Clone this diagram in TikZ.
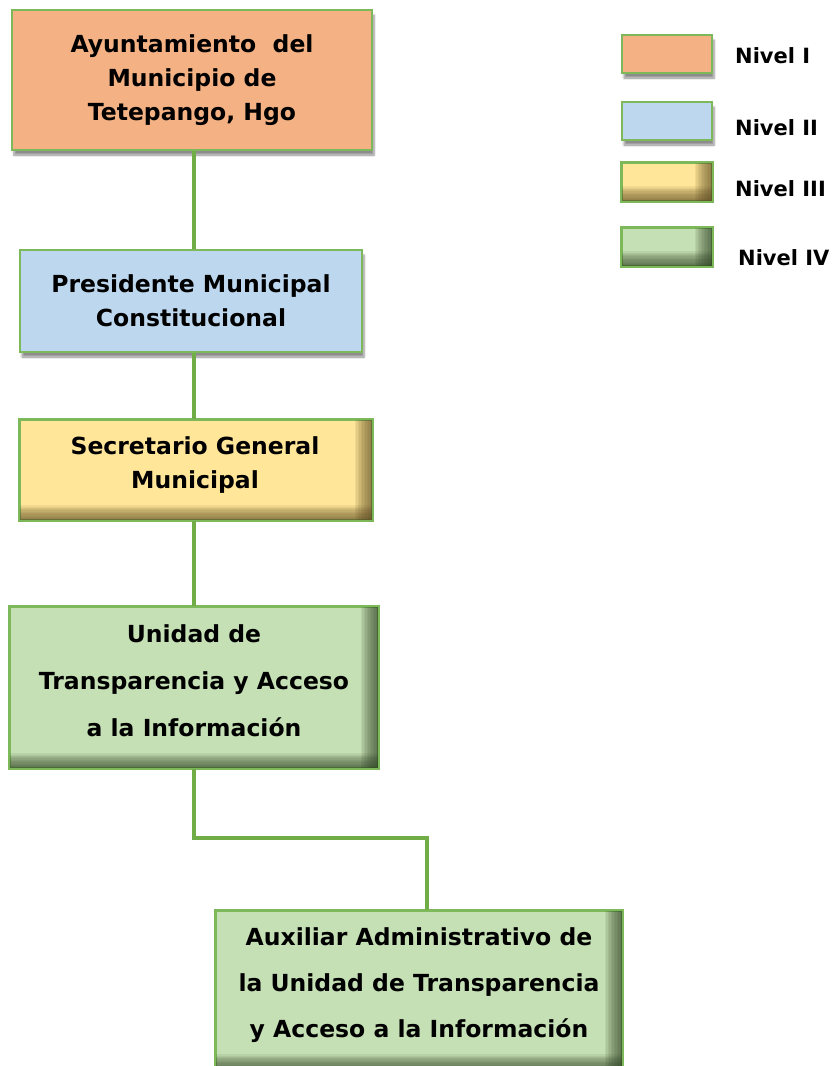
\documentclass[tikz,border=0pt]{standalone}
\usepackage{fontspec}
\setmainfont{DejaVu Sans}
\usetikzlibrary{shadows.blur}
\definecolor{lineg}{HTML}{70AD47}
\definecolor{bordg}{HTML}{7DB85A}
\definecolor{orf}{HTML}{F4B183}
\definecolor{blf}{HTML}{BDD7EE}
\definecolor{yef}{HTML}{FFE699}
\definecolor{yed}{HTML}{5E4E25}
\definecolor{grf}{HTML}{C5E0B4}
\definecolor{grd}{HTML}{2F4525}
\tikzset{
  box/.style={draw=bordg, line width=1.6pt, rectangle, inner sep=0pt, align=center, text=black},
  shbox/.style={box, blur shadow={shadow xshift=2pt, shadow yshift=-5pt, shadow blur steps=6, shadow opacity=45}},
  conn/.style={lineg, line width=4.5pt},
  bigtxt/.style={font=\bfseries\fontsize{23.5}{34}\selectfont, align=center},
  legtxt/.style={anchor=west, font=\bfseries\fontsize{21}{22}\selectfont, inner sep=0pt},
}
\newcommand\edgeshade[2]{%
  \foreach \k in {1,...,12}{
    \fill[#2, opacity=0.085] ([xshift=-\k*1.5pt]#1.north east) rectangle (#1.south east);
    \fill[#2, opacity=0.085] ([yshift=\k*1.3pt]#1.south west) rectangle (#1.south east);
  }
  \draw[draw=bordg, line width=1.6pt] (#1.north west) rectangle (#1.south east);}
\begin{document}
\begin{tikzpicture}[x=1pt,y=-1pt]
\useasboundingbox (0,0) rectangle (835,1066);
\coordinate (c1) at (194,838);
\coordinate (c2) at (427,838);
\node[shbox, bigtxt, fill=orf, minimum width=360pt, minimum height=140pt] (n1) at (192,80) {Ayuntamiento\ \ del\\Municipio de\\Tetepango, Hgo};
\node[shbox, bigtxt, fill=blf, minimum width=342pt, minimum height=102pt] (n2) at (191,301) {Presidente Municipal\\Constitucional};
\node[box, fill=yef, minimum width=352pt, minimum height=100pt] (n3) at (196,470) {};
\edgeshade{n3}{yed}
\node[bigtxt] (t3) at (195,465) {Secretario General\\Municipal};
\node[box, fill=grf, minimum width=368pt, minimum height=161pt] (n4) at (194,687.5) {};
\edgeshade{n4}{grd}
\node[bigtxt, font=\bfseries\fontsize{23.5}{47}\selectfont] (t4) at (194,681) {Unidad de\\Transparencia y Acceso\\a la Información};
\node[box, fill=grf, minimum width=406pt, minimum height=158pt] (n5) at (419,990) {};
\edgeshade{n5}{grd}
\node[bigtxt, font=\bfseries\fontsize{23.5}{46}\selectfont] (t5) at (419,985) {Auxiliar Administrativo de\\la Unidad de Transparencia\\y Acceso a la Información};
\draw[conn] (n1.south -| 194,0) -- (n2.north -| 194,0);
\draw[conn] (n2.south -| 194,0) -- (n3.north -| 194,0);
\draw[conn] (n3.south -| 194,0) -- (n4.north -| 194,0);
\draw[conn] (n4.south -| 194,0) -- (c1) -- (c2) -- (n5.north -| c2);
% legend
\node[shbox, fill=orf, minimum width=90pt, minimum height=38pt] (l1) at (667,54) {};
\node[shbox, fill=blf, minimum width=90pt, minimum height=38pt] (l2) at (667,121) {};
\node[box, fill=yef, minimum width=90pt, minimum height=38pt] (l3) at (667,182) {};
\edgeshade{l3}{yed}
\node[box, fill=grf, minimum width=90pt, minimum height=38pt] (l4) at (667,247) {};
\edgeshade{l4}{grd}
\node[legtxt] (lt1) at (735,56) {Nivel I};
\node[legtxt] (lt2) at (735,128) {Nivel II};
\node[legtxt] (lt3) at (735,189) {Nivel III};
\node[legtxt] (lt4) at (738,258) {Nivel IV};
\end{tikzpicture}
\end{document}
